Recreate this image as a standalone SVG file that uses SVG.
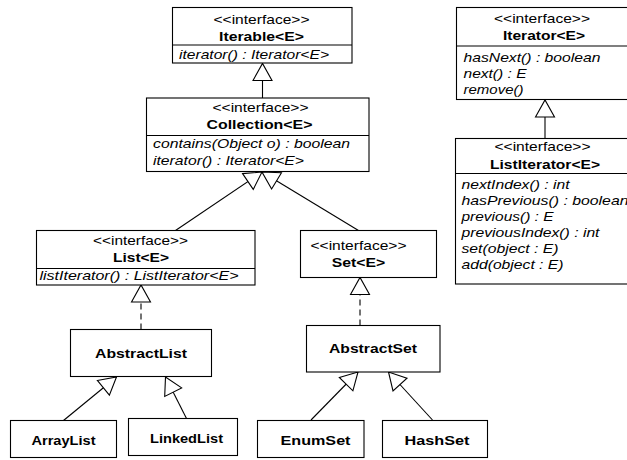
<svg xmlns="http://www.w3.org/2000/svg" width="627" height="460" viewBox="0 0 627 460">
<style>
.box{fill:#fff;stroke:#000;stroke-width:1.1}
.sep{stroke:#000;stroke-width:1.1}
text{font-family:"Liberation Sans",Arial,Helvetica,sans-serif;font-size:12.6px;fill:#000}
.c{text-anchor:middle}
.b{font-weight:bold}
.i{font-style:italic}
.edge{fill:none;stroke:#000;stroke-width:1.1;marker-end:url(#tri)}
.dash{stroke-dasharray:6,4}
</style>
<defs>
<marker id="tri" markerUnits="userSpaceOnUse" viewBox="-1 -11 20 22" markerWidth="20" markerHeight="22" refX="17" refY="0" orient="auto" overflow="visible">
<path d="M0,-9.5 L17,0 L0,9.5 Z" fill="#fff" stroke="#000" stroke-width="1.1"/>
</marker>
</defs>
<rect width="627" height="460" fill="#fff"/>
<g id="connectors">
<path class="edge" d="M262.5,98 L262.5,63.5"/>
<path class="edge" d="M175.5,230.5 L262,172"/>
<path class="edge" d="M358.5,230.5 L262,172"/>
<path class="edge" d="M545,138.5 L545,100"/>
<path class="edge dash" d="M141,329.5 L141,285"/>
<path class="edge dash" d="M360,325.5 L360,277.5"/>
<path class="edge" d="M63.5,420.5 L116.5,377"/>
<path class="edge" d="M186.5,418.5 L165.5,377"/>
<path class="edge" d="M311,420 L358,372"/>
<path class="edge" d="M432.5,420 L388.5,372"/>
</g>
<g id="Iterable">
<rect class="box" x="172.5" y="7.5" width="179.5" height="55.5"/>
<line class="sep" x1="172.5" y1="45" x2="352" y2="45"/>
<text class="c" x="261.5" y="23.5" textLength="96" lengthAdjust="spacingAndGlyphs">&lt;&lt;interface&gt;&gt;</text>
<text class="c b" x="261.5" y="40.5" textLength="85" lengthAdjust="spacingAndGlyphs">Iterable&lt;E&gt;</text>
<text class="i" x="179" y="58.5" textLength="150" lengthAdjust="spacingAndGlyphs">iterator() : Iterator&lt;E&gt;</text>
</g>
<g id="Collection">
<rect class="box" x="146.5" y="98" width="222.5" height="73.5"/>
<line class="sep" x1="146.5" y1="135.5" x2="369" y2="135.5"/>
<text class="c" x="260.5" y="112" textLength="96" lengthAdjust="spacingAndGlyphs">&lt;&lt;interface&gt;&gt;</text>
<text class="c b" x="259.5" y="129" textLength="106" lengthAdjust="spacingAndGlyphs">Collection&lt;E&gt;</text>
<text class="i" x="153" y="148" textLength="197" lengthAdjust="spacingAndGlyphs">contains(Object o) : boolean</text>
<text class="i" x="153" y="165" textLength="151" lengthAdjust="spacingAndGlyphs">iterator() : Iterator&lt;E&gt;</text>
</g>
<g id="Iterator">
<rect class="box" x="456.5" y="7.5" width="200" height="92"/>
<line class="sep" x1="456.5" y1="46" x2="656.5" y2="46"/>
<text class="c" x="542" y="22.5" textLength="96" lengthAdjust="spacingAndGlyphs">&lt;&lt;interface&gt;&gt;</text>
<text class="c b" x="544" y="39.5" textLength="82" lengthAdjust="spacingAndGlyphs">Iterator&lt;E&gt;</text>
<text class="i" x="463.5" y="61.5" textLength="137" lengthAdjust="spacingAndGlyphs">hasNext() : boolean</text>
<text class="i" x="463.5" y="77.5" textLength="63" lengthAdjust="spacingAndGlyphs">next() : E</text>
<text class="i" x="463.5" y="93.5" textLength="60" lengthAdjust="spacingAndGlyphs">remove()</text>
</g>
<g id="ListIterator">
<rect class="box" x="455.5" y="138.5" width="200" height="145.5"/>
<line class="sep" x1="455.5" y1="173.5" x2="655.5" y2="173.5"/>
<text class="c" x="542.5" y="151" textLength="96" lengthAdjust="spacingAndGlyphs">&lt;&lt;interface&gt;&gt;</text>
<text class="c b" x="545" y="168.5" textLength="110" lengthAdjust="spacingAndGlyphs">ListIterator&lt;E&gt;</text>
<text class="i" x="461.5" y="189" textLength="108" lengthAdjust="spacingAndGlyphs">nextIndex() : int</text>
<text class="i" x="461.5" y="205" textLength="167" lengthAdjust="spacingAndGlyphs">hasPrevious() : boolean</text>
<text class="i" x="461.5" y="221" textLength="92" lengthAdjust="spacingAndGlyphs">previous() : E</text>
<text class="i" x="461.5" y="237" textLength="138" lengthAdjust="spacingAndGlyphs">previousIndex() : int</text>
<text class="i" x="461.5" y="253" textLength="97" lengthAdjust="spacingAndGlyphs">set(object : E)</text>
<text class="i" x="461.5" y="269" textLength="102" lengthAdjust="spacingAndGlyphs">add(object : E)</text>
</g>
<g id="List">
<rect class="box" x="36.5" y="230.5" width="218.5" height="54.5"/>
<line class="sep" x1="36.5" y1="268.5" x2="255" y2="268.5"/>
<text class="c" x="140.5" y="244.5" textLength="95" lengthAdjust="spacingAndGlyphs">&lt;&lt;interface&gt;&gt;</text>
<text class="c b" x="141" y="262" textLength="56" lengthAdjust="spacingAndGlyphs">List&lt;E&gt;</text>
<text class="i" x="39.5" y="280" textLength="199" lengthAdjust="spacingAndGlyphs">listIterator() : ListIterator&lt;E&gt;</text>
</g>
<g id="Set">
<rect class="box" x="300.5" y="230.5" width="136" height="47"/>
<text class="c" x="358.5" y="250" textLength="96" lengthAdjust="spacingAndGlyphs">&lt;&lt;interface&gt;&gt;</text>
<text class="c b" x="358.5" y="266.5" textLength="53.5" lengthAdjust="spacingAndGlyphs">Set&lt;E&gt;</text>
</g>
<g id="AbstractList">
<rect class="box" x="70.5" y="329.5" width="141" height="47"/>
<text class="c b" x="141" y="357.5" textLength="92" lengthAdjust="spacingAndGlyphs">AbstractList</text>
</g>
<g id="AbstractSet">
<rect class="box" x="306.5" y="325.5" width="133.5" height="46.5"/>
<text class="c b" x="373" y="353" textLength="88" lengthAdjust="spacingAndGlyphs">AbstractSet</text>
</g>
<g id="ArrayList">
<rect class="box" x="10.5" y="420.5" width="106" height="37"/>
<text class="c b" x="63.5" y="444.5" textLength="64" lengthAdjust="spacingAndGlyphs">ArrayList</text>
</g>
<g id="LinkedList">
<rect class="box" x="128.5" y="418.5" width="109" height="37"/>
<text class="c b" x="186.5" y="442.5" textLength="73" lengthAdjust="spacingAndGlyphs">LinkedList</text>
</g>
<g id="EnumSet">
<rect class="box" x="257.5" y="420.5" width="106.5" height="37"/>
<text class="c b" x="315.5" y="444.5" textLength="70" lengthAdjust="spacingAndGlyphs">EnumSet</text>
</g>
<g id="HashSet">
<rect class="box" x="382.5" y="420.5" width="105" height="37"/>
<text class="c b" x="437" y="444.5" textLength="65" lengthAdjust="spacingAndGlyphs">HashSet</text>
</g>
</svg>
